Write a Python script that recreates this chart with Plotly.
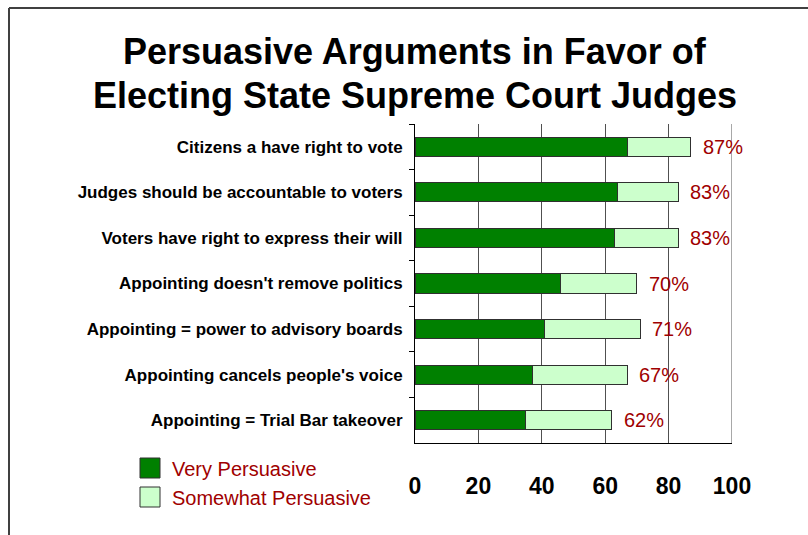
import plotly.graph_objects as go

# Arguments and survey shares (percent of respondents)
arguments = [
    "Citizens a have right to vote",
    "Judges should be accountable to voters",
    "Voters have right to express their will",
    "Appointing doesn't remove politics",
    "Appointing = power to advisory boards",
    "Appointing cancels people's voice",
    "Appointing = Trial Bar takeover",
]
very_persuasive = [67, 64, 63, 46, 41, 37, 35]
somewhat_persuasive = [20, 19, 20, 24, 30, 30, 27]
total_persuasive = [87, 83, 83, 70, 71, 67, 62]
series_names = ["Very Persuasive", "Somewhat Persuasive"]
x_ticks = [0, 20, 40, 60, 80, 100]

DARK_GREEN = "#008000"
LIGHT_GREEN = "#CCFFCC"
LABEL_RED = "#A00000"
EDGE = "#303030"
SANS = "Liberation Sans, Arial, sans-serif"

W, H = 808, 535
L, R, T, B = 415, 76, 124, 92
PW, PH = W - L - R, H - T - B


def px_x(px):
    return (px - L) / PW


def px_y(py):
    return (H - B - py) / PH


fig = go.Figure()
fig.add_trace(go.Bar(
    y=arguments, x=very_persuasive, orientation="h", name=series_names[0],
    marker=dict(color=DARK_GREEN, line=dict(color=EDGE, width=1)),
    showlegend=False,
))
fig.add_trace(go.Bar(
    y=arguments, x=somewhat_persuasive, orientation="h", name=series_names[1],
    marker=dict(color=LIGHT_GREEN, line=dict(color=EDGE, width=1)),
    showlegend=False,
))

# total labels at the end of each stacked bar
for cat, tot in zip(arguments, total_persuasive):
    fig.add_annotation(
        x=tot, y=cat, text=f"{tot}%", showarrow=False,
        xanchor="left", xshift=10,
        font=dict(family=SANS, size=20, color=LABEL_RED),
    )

# legend swatches and labels
for i, (name, col) in enumerate(zip(series_names, [DARK_GREEN, LIGHT_GREEN])):
    top = 458 + i * 29
    fig.add_shape(
        type="rect", xref="paper", yref="paper",
        x0=px_x(140), x1=px_x(160), y0=px_y(top + 20), y1=px_y(top),
        fillcolor=col, line=dict(color=EDGE, width=1),
    )
    fig.add_annotation(
        xref="paper", yref="paper", x=px_x(170), y=px_y(top + 11),
        text=name, showarrow=False, xanchor="left", yanchor="middle",
        font=dict(family=SANS, size=20, color=LABEL_RED),
    )

# gridline at the right end of the value axis
fig.add_shape(type="line", xref="x", yref="paper", x0=100, x1=100, y0=0, y1=1,
              line=dict(color="#505050", width=1), layer="below")

# outer frame (top and left edges)
fig.add_shape(type="line", xref="paper", yref="paper",
              x0=px_x(9), x1=px_x(W + 5), y0=px_y(8), y1=px_y(8),
              line=dict(color="#404040", width=2))
fig.add_shape(type="line", xref="paper", yref="paper",
              x0=px_x(9), x1=px_x(9), y0=px_y(8), y1=px_y(H + 5),
              line=dict(color="#404040", width=2))

# two-line title
fig.add_annotation(
    xref="paper", yref="paper", x=px_x(415), y=px_y(52),
    text="Persuasive Arguments in Favor of", showarrow=False,
    xanchor="center", yanchor="middle",
    font=dict(family=SANS, size=36, color="black", weight="bold"),
)
fig.add_annotation(
    xref="paper", yref="paper", x=px_x(415), y=px_y(95),
    text="Electing State Supreme Court Judges", showarrow=False,
    xanchor="center", yanchor="middle",
    font=dict(family=SANS, size=36, color="black", weight="bold"),
)

fig.update_layout(
    width=W, height=H,
    margin=dict(l=L, r=R, t=T, b=B),
    barmode="stack", bargap=0.58,
    paper_bgcolor="white", plot_bgcolor="white",
    xaxis=dict(
        range=[0, 100], tickvals=x_ticks, ticktext=[str(v) for v in x_ticks],
        showgrid=True, gridcolor="#505050", gridwidth=1,
        showline=True, linecolor="black", linewidth=1,
        zeroline=False, ticks="", ticklabelstandoff=22,
        tickfont=dict(family=SANS, size=23, color="black", weight="bold"),
        fixedrange=True,
    ),
    yaxis=dict(
        autorange="reversed", showline=True, linecolor="black", linewidth=1,
        ticks="outside", ticklen=5, tickcolor="black", tickson="boundaries",
        showgrid=False, ticklabelstandoff=8,
        tickfont=dict(family=SANS, size=17, color="black", weight="bold"),
        fixedrange=True,
    ),
)

fig.write_html("out.html")
